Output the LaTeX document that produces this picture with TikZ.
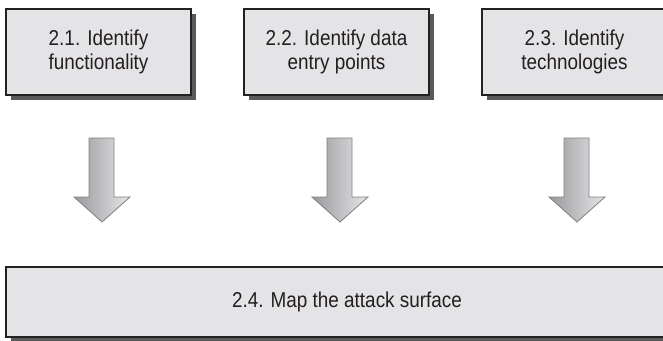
\documentclass[tikz,border=0pt]{standalone}
\usepackage{fontspec}
\setmainfont{Liberation Sans}
\newfontfamily\narrowfont[FakeStretch=0.88]{Liberation Sans}
\usetikzlibrary{shadows}
\definecolor{boxfill}{HTML}{E4E4E6}
\definecolor{shadowgray}{HTML}{5A5A5A}
\definecolor{edgegray}{HTML}{222222}
\definecolor{txtgray}{HTML}{231F20}
\definecolor{arrowdark}{HTML}{9A9A9C}
\definecolor{arrowlight}{HTML}{E6E6E8}
\definecolor{arrowedge}{HTML}{808082}
\tikzset{
  stepbox/.style={draw=edgegray, line width=1.3pt, fill=boxfill, text=txtgray,
    minimum width=185pt, minimum height=86pt, inner sep=0pt, align=center,
    font=\narrowfont\fontsize{21.5}{24}\selectfont,
    drop shadow={shadow xshift=5pt, shadow yshift=-5pt, fill=shadowgray, opacity=1}},
  widebox/.style={stepbox, minimum width=682pt, minimum height=70pt},
  blockarrow/.pic={
    \draw[draw=arrowedge, line width=0.8pt, left color=arrowdark, right color=arrowlight]
      (-13,0) -- (12,0) -- (12,59) -- (28,59) -- (0,84) -- (-28,59) -- (-13,59) -- cycle;
  }
}
\begin{document}
\begin{tikzpicture}[x=1pt,y=-1pt]
\clip (0,0) rectangle (663,340);
\useasboundingbox (0,0) rectangle (663,340);
\fill[white] (0,0) rectangle (663,340);
\node[stepbox] (b1) at (98.5,52) {2.1. Identify\\functionality};
\node[stepbox] (b2) at (336.5,52) {2.2. Identify data\\entry points};
\node[stepbox] (b3) at (574.5,52) {2.3. Identify\\technologies};
\node[widebox] (b4) at (347,302) {2.4. Map the attack surface};
\pic at (102,138) {blockarrow};
\pic at (340,138) {blockarrow};
\pic at (577,138) {blockarrow};
\end{tikzpicture}
\end{document}
